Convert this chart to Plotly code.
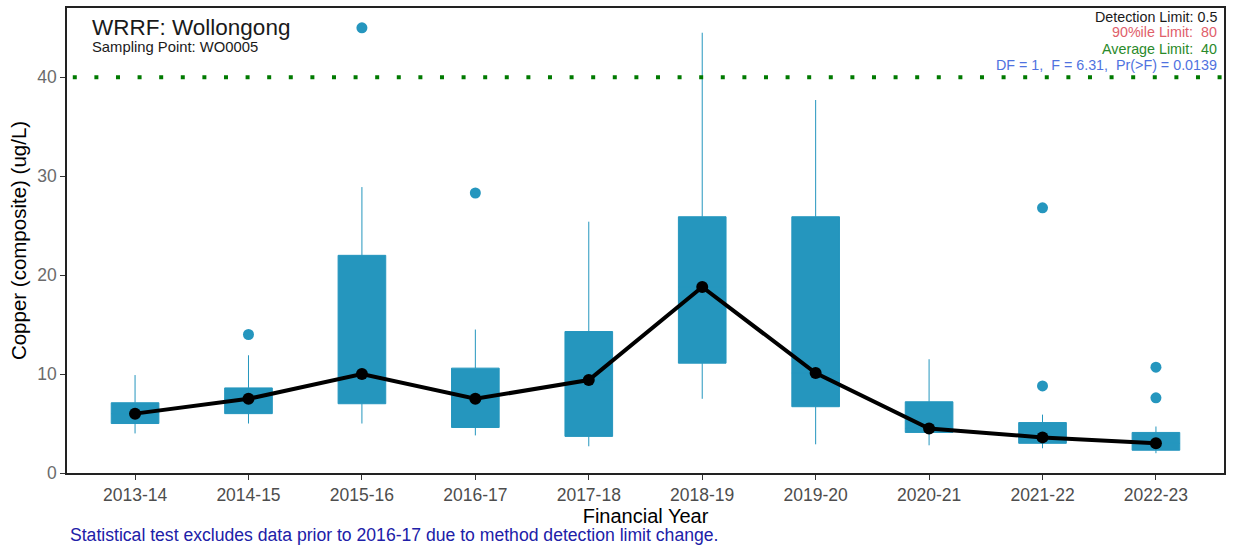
import plotly.graph_objects as go

years = ["2013-14", "2014-15", "2015-16", "2016-17", "2017-18",
         "2018-19", "2019-20", "2020-21", "2021-22", "2022-23"]
q1 = [5.0, 6.0, 7.0, 4.6, 3.7, 11.1, 6.7, 4.1, 3.0, 2.3]
q3 = [7.1, 8.6, 22.0, 10.6, 14.3, 25.9, 25.9, 7.2, 5.1, 4.1]
median = [6.0, 7.5, 10.0, 7.5, 9.4, 18.8, 10.1, 4.5, 3.6, 3.0]
lower = [4.0, 5.0, 5.0, 3.8, 2.7, 7.5, 2.9, 2.8, 2.5, 2.0]
upper = [9.9, 11.9, 28.9, 14.5, 25.4, 44.5, 37.7, 11.5, 5.9, 4.7]
mean = [6.0, 7.5, 10.0, 7.5, 9.4, 18.8, 10.1, 4.5, 3.6, 3.0]
outlier_year = ["2014-15", "2015-16", "2016-17", "2021-22", "2021-22", "2022-23", "2022-23"]
outlier_val = [14.0, 45.0, 28.3, 26.8, 8.8, 10.7, 7.6]
average_limit = 40

BOX = "#2596be"
fig = go.Figure()
fig.add_trace(go.Box(
    x=years, q1=q1, q3=q3, median=median, lowerfence=lower, upperfence=upper,
    fillcolor=BOX, line=dict(color=BOX, width=1), width=0.42, whiskerwidth=0,
    boxpoints=False, hoverinfo="skip", showlegend=False))
fig.add_trace(go.Scatter(
    x=outlier_year, y=outlier_val, mode="markers",
    marker=dict(color=BOX, size=11), showlegend=False))
fig.add_trace(go.Scatter(
    x=years, y=mean, mode="lines+markers",
    line=dict(color="black", width=4), marker=dict(color="black", size=12),
    showlegend=False))

fig.add_shape(type="line", xref="paper", yref="y", x0=0.005, x1=1,
              y0=average_limit, y1=average_limit,
              line=dict(color="#007a00", width=4, dash="4px,17.6px"))

font = "Liberation Sans, Arial, sans-serif"
fig.update_layout(
    width=1234, height=547,
    margin=dict(l=67, r=10, t=8, b=74),
    paper_bgcolor="white", plot_bgcolor="white",
    font=dict(family=font, color="#4d4d4d"),
    xaxis=dict(range=[-0.6, 9.6], showgrid=False, ticks="outside", ticklen=5,
               automargin=False,
               tickcolor="#333333", tickfont=dict(size=17.5, color="#4d4d4d"),
               showline=True, mirror=True, linecolor="#222222", linewidth=1.5,
               title=dict(text="Financial Year", font=dict(size=20, color="black"), standoff=4)),
    yaxis=dict(range=[0, 47], showgrid=False, zeroline=False, ticks="outside", ticklen=5,
               automargin=False,
               tickcolor="#333333", tickvals=[0, 10, 20, 30, 40],
               tickfont=dict(size=17.5, color="#6b6b6b"),
               showline=True, mirror=True, linecolor="#222222", linewidth=1.5,
               title=dict(text="Copper (composite) (ug/L)", font=dict(size=20.5, color="black"), standoff=5)),
)

NB = "\u00a0"
ann = [
    dict(text="WRRF: Wollongong", x=90, y=28, size=22.5, color="#1a1a1a", anchor="left"),
    dict(text="Sampling Point: WO0005", x=90, y=47, size=14.8, color="#1a1a1a", anchor="left"),
    dict(text="Detection Limit: 0.5", x=1219, y=17, size=14.3, color="#1a1a1a", anchor="right"),
    dict(text=f"90%ile Limit:{NB}{NB}80", x=1219, y=32, size=14.3, color="#e0606a", anchor="right"),
    dict(text=f"Average Limit:{NB}{NB}40", x=1219, y=49, size=14.3, color="#2a8a2a", anchor="right"),
    dict(text=f"DF = 1,{NB}{NB}F = 6.31,{NB}{NB}Pr(>F) = 0.0139", x=1219, y=65, size=14.3,
         color="#4f72e0", anchor="right"),
    dict(text="Statistical test excludes data prior to 2016-17 due to method detection limit change.",
         x=68, y=535, size=17.6, color="#2020a8", anchor="left"),
]
for a in ann:
    fig.add_annotation(
        text=a["text"], xref="paper", yref="paper",
        x=(a["x"] - 67) / (1224 - 67),
        y=(473 - a["y"]) / (473 - 8),
        xanchor=a["anchor"], yanchor="middle", showarrow=False,
        font=dict(size=a["size"], color=a["color"], family=font))

fig.write_html("out.html", config={"displayModeBar": False},
               post_script="document.body.style.margin='0px';document.body.style.overflow='hidden';")
